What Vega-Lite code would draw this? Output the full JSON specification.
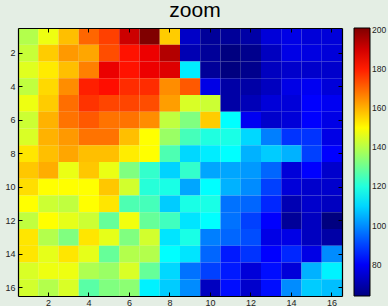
{
  "$schema": "https://vega.github.io/schema/vega-lite/v6.json",
  "autosize": {"type": "none"},
  "padding": {"left": 18, "top": 28, "right": 46, "bottom": 10},
  "width": 324,
  "height": 268,
  "background": "#e4eee4",
  "title": {"text": "zoom", "font": "Liberation Sans", "fontSize": 21, "fontWeight": "normal", "color": "#000000", "anchor": "middle", "dx": 15, "offset": 7},
  "config": {
    "view": {"stroke": null},
    "axis": {"labelFont": "Liberation Sans", "labelFontSize": 9, "labelColor": "#222222", "domainColor": "#000000", "domainWidth": 1.2, "tickColor": "#000000", "tickSize": -4, "grid": false, "title": null, "labelAngle": 0},
    "legend": {"labelFont": "Liberation Sans", "labelFontSize": 9, "labelColor": "#222222"}
  },
  "data": {"name": "grid"},
  "datasets": {
    "grid": [
      {"row":1,"col":1,"v":139.4},{"row":1,"col":2,"v":147.3},{"row":1,"col":3,"v":158.2},{"row":1,"col":4,"v":170.2},{"row":1,"col":5,"v":175.3},{"row":1,"col":6,"v":190.8},{"row":1,"col":7,"v":201},{"row":1,"col":8,"v":156.5},{"row":1,"col":9,"v":73.6},{"row":1,"col":10,"v":67.4},{"row":1,"col":11,"v":67.4},{"row":1,"col":12,"v":69.1},{"row":1,"col":13,"v":76},{"row":1,"col":14,"v":77.7},{"row":1,"col":15,"v":76},{"row":1,"col":16,"v":76},
      {"row":2,"col":1,"v":142.1},{"row":2,"col":2,"v":156.5},{"row":2,"col":3,"v":163.3},{"row":2,"col":4,"v":161.6},{"row":2,"col":5,"v":173.6},{"row":2,"col":6,"v":181.5},{"row":2,"col":7,"v":186.3},{"row":2,"col":8,"v":194.2},{"row":2,"col":9,"v":70.9},{"row":2,"col":10,"v":67.4},{"row":2,"col":11,"v":64},{"row":2,"col":12,"v":65.7},{"row":2,"col":13,"v":72.6},{"row":2,"col":14,"v":77.7},{"row":2,"col":15,"v":77},{"row":2,"col":16,"v":76},
      {"row":3,"col":1,"v":145.5},{"row":3,"col":2,"v":152.3},{"row":3,"col":3,"v":158.2},{"row":3,"col":4,"v":166.7},{"row":3,"col":5,"v":186.6},{"row":3,"col":6,"v":181.5},{"row":3,"col":7,"v":186.3},{"row":3,"col":8,"v":188.4},{"row":3,"col":9,"v":113},{"row":3,"col":10,"v":67.4},{"row":3,"col":11,"v":64},{"row":3,"col":12,"v":65.7},{"row":3,"col":13,"v":72.6},{"row":3,"col":14,"v":74.3},{"row":3,"col":15,"v":74.3},{"row":3,"col":16,"v":74.3},
      {"row":4,"col":1,"v":141.1},{"row":4,"col":2,"v":154.7},{"row":4,"col":3,"v":165},{"row":4,"col":4,"v":179.7},{"row":4,"col":5,"v":182.1},{"row":4,"col":6,"v":178},{"row":4,"col":7,"v":178},{"row":4,"col":8,"v":165},{"row":4,"col":9,"v":171.9},{"row":4,"col":10,"v":77.7},{"row":4,"col":11,"v":69.1},{"row":4,"col":12,"v":69.1},{"row":4,"col":13,"v":72.6},{"row":4,"col":14,"v":77.7},{"row":4,"col":15,"v":79.4},{"row":4,"col":16,"v":76},
      {"row":5,"col":1,"v":147.3},{"row":5,"col":2,"v":156.5},{"row":5,"col":3,"v":169.1},{"row":5,"col":4,"v":177},{"row":5,"col":5,"v":174.6},{"row":5,"col":6,"v":174.6},{"row":5,"col":7,"v":173.6},{"row":5,"col":8,"v":162.6},{"row":5,"col":9,"v":144.5},{"row":5,"col":10,"v":142.8},{"row":5,"col":11,"v":69.1},{"row":5,"col":12,"v":71.5},{"row":5,"col":13,"v":76},{"row":5,"col":14,"v":76},{"row":5,"col":15,"v":81.1},{"row":5,"col":16,"v":79.4},
      {"row":6,"col":1,"v":142.8},{"row":6,"col":2,"v":159.9},{"row":6,"col":3,"v":168.4},{"row":6,"col":4,"v":171.9},{"row":6,"col":5,"v":168.4},{"row":6,"col":6,"v":168.4},{"row":6,"col":7,"v":165},{"row":6,"col":8,"v":141.1},{"row":6,"col":9,"v":132.5},{"row":6,"col":10,"v":156.5},{"row":6,"col":11,"v":115.4},{"row":6,"col":12,"v":79.4},{"row":6,"col":13,"v":74.3},{"row":6,"col":14,"v":76},{"row":6,"col":15,"v":81.1},{"row":6,"col":16,"v":77.7},
      {"row":7,"col":1,"v":144.5},{"row":7,"col":2,"v":159.9},{"row":7,"col":3,"v":163.3},{"row":7,"col":4,"v":168.4},{"row":7,"col":5,"v":168.4},{"row":7,"col":6,"v":158.2},{"row":7,"col":7,"v":149.6},{"row":7,"col":8,"v":136},{"row":7,"col":9,"v":124.6},{"row":7,"col":10,"v":119.5},{"row":7,"col":11,"v":118.8},{"row":7,"col":12,"v":110.2},{"row":7,"col":13,"v":98.2},{"row":7,"col":14,"v":88},{"row":7,"col":15,"v":88},{"row":7,"col":16,"v":77.7},
      {"row":8,"col":1,"v":153},{"row":8,"col":2,"v":158.2},{"row":8,"col":3,"v":161.6},{"row":8,"col":4,"v":158.2},{"row":8,"col":5,"v":158.2},{"row":8,"col":6,"v":152},{"row":8,"col":7,"v":149.6},{"row":8,"col":8,"v":125.7},{"row":8,"col":9,"v":110.2},{"row":8,"col":10,"v":113},{"row":8,"col":11,"v":115.4},{"row":8,"col":12,"v":105.1},{"row":8,"col":13,"v":108.5},{"row":8,"col":14,"v":105.1},{"row":8,"col":15,"v":89.7},{"row":8,"col":16,"v":81.1},
      {"row":9,"col":1,"v":157.1},{"row":9,"col":2,"v":160.6},{"row":9,"col":3,"v":146.9},{"row":9,"col":4,"v":157.1},{"row":9,"col":5,"v":146.9},{"row":9,"col":6,"v":132.5},{"row":9,"col":7,"v":122.2},{"row":9,"col":8,"v":109.5},{"row":9,"col":9,"v":122.2},{"row":9,"col":10,"v":103.4},{"row":9,"col":11,"v":103.4},{"row":9,"col":12,"v":101.7},{"row":9,"col":13,"v":94.8},{"row":9,"col":14,"v":76},{"row":9,"col":15,"v":81.1},{"row":9,"col":16,"v":74.3},
      {"row":10,"col":1,"v":154.1},{"row":10,"col":2,"v":149.6},{"row":10,"col":3,"v":149.6},{"row":10,"col":4,"v":149.6},{"row":10,"col":5,"v":157.1},{"row":10,"col":6,"v":143.5},{"row":10,"col":7,"v":120.5},{"row":10,"col":8,"v":118.8},{"row":10,"col":9,"v":103.4},{"row":10,"col":10,"v":115.4},{"row":10,"col":11,"v":105.1},{"row":10,"col":12,"v":99.9},{"row":10,"col":13,"v":89.7},{"row":10,"col":14,"v":76},{"row":10,"col":15,"v":74.3},{"row":10,"col":16,"v":74.3},
      {"row":11,"col":1,"v":149.6},{"row":11,"col":2,"v":142.8},{"row":11,"col":3,"v":141.1},{"row":11,"col":4,"v":149.6},{"row":11,"col":5,"v":153},{"row":11,"col":6,"v":125.7},{"row":11,"col":7,"v":124.6},{"row":11,"col":8,"v":108.5},{"row":11,"col":9,"v":118.8},{"row":11,"col":10,"v":118.8},{"row":11,"col":11,"v":96.5},{"row":11,"col":12,"v":94.8},{"row":11,"col":13,"v":86.2},{"row":11,"col":14,"v":70.9},{"row":11,"col":15,"v":74.3},{"row":11,"col":16,"v":72.6},
      {"row":12,"col":1,"v":141.1},{"row":12,"col":2,"v":149.6},{"row":12,"col":3,"v":146.2},{"row":12,"col":4,"v":142.8},{"row":12,"col":5,"v":129.1},{"row":12,"col":6,"v":147.9},{"row":12,"col":7,"v":129.1},{"row":12,"col":8,"v":124},{"row":12,"col":9,"v":111.9},{"row":12,"col":10,"v":115.4},{"row":12,"col":11,"v":96.5},{"row":12,"col":12,"v":89.7},{"row":12,"col":13,"v":81},{"row":12,"col":14,"v":67.4},{"row":12,"col":15,"v":72.6},{"row":12,"col":16,"v":64},
      {"row":13,"col":1,"v":153},{"row":13,"col":2,"v":139.4},{"row":13,"col":3,"v":132.5},{"row":13,"col":4,"v":153},{"row":13,"col":5,"v":146.2},{"row":13,"col":6,"v":132.5},{"row":13,"col":7,"v":143.5},{"row":13,"col":8,"v":111.9},{"row":13,"col":9,"v":118.8},{"row":13,"col":10,"v":98.2},{"row":13,"col":11,"v":94.8},{"row":13,"col":12,"v":91.4},{"row":13,"col":13,"v":77.7},{"row":13,"col":14,"v":77.7},{"row":13,"col":15,"v":72.6},{"row":13,"col":16,"v":69.1},
      {"row":14,"col":1,"v":153},{"row":14,"col":2,"v":146.2},{"row":14,"col":3,"v":153},{"row":14,"col":4,"v":146.2},{"row":14,"col":5,"v":129.1},{"row":14,"col":6,"v":139.4},{"row":14,"col":7,"v":139.4},{"row":14,"col":8,"v":115.4},{"row":14,"col":9,"v":111.9},{"row":14,"col":10,"v":94.8},{"row":14,"col":11,"v":84.5},{"row":14,"col":12,"v":88},{"row":14,"col":13,"v":81.1},{"row":14,"col":14,"v":86.2},{"row":14,"col":15,"v":77.7},{"row":14,"col":16,"v":99.9},
      {"row":15,"col":1,"v":144.5},{"row":15,"col":2,"v":147.3},{"row":15,"col":3,"v":147.3},{"row":15,"col":4,"v":138.7},{"row":15,"col":5,"v":136},{"row":15,"col":6,"v":144.5},{"row":15,"col":7,"v":129.1},{"row":15,"col":8,"v":110.2},{"row":15,"col":9,"v":96.5},{"row":15,"col":10,"v":89.7},{"row":15,"col":11,"v":84.5},{"row":15,"col":12,"v":76},{"row":15,"col":13,"v":82.8},{"row":15,"col":14,"v":76},{"row":15,"col":15,"v":105.1},{"row":15,"col":16,"v":113.6},
      {"row":16,"col":1,"v":143.5},{"row":16,"col":2,"v":139.4},{"row":16,"col":3,"v":144.5},{"row":16,"col":4,"v":127.4},{"row":16,"col":5,"v":132.5},{"row":16,"col":6,"v":134.2},{"row":16,"col":7,"v":113.6},{"row":16,"col":8,"v":108.5},{"row":16,"col":9,"v":99.9},{"row":16,"col":10,"v":72.6},{"row":16,"col":11,"v":82.8},{"row":16,"col":12,"v":74.3},{"row":16,"col":13,"v":82.8},{"row":16,"col":14,"v":99.9},{"row":16,"col":15,"v":108.5},{"row":16,"col":16,"v":106.8}
    ]
  },
  "layer": [
    {
      "mark": {"type": "rect"},
      "encoding": {
        "x": {"field": "col", "type": "ordinal", "scale": {"paddingInner": 0, "paddingOuter": 0}, "axis": {"orient": "bottom", "values": [2,4,6,8,10,12,14,16], "labelPadding": 6}},
        "y": {"field": "row", "type": "ordinal", "scale": {"paddingInner": 0, "paddingOuter": 0}, "axis": {"orient": "left", "values": [2,4,6,8,10,12,14,16], "labelPadding": 7}},
        "color": {
          "field": "v", "type": "quantitative",
          "scale": {"domain": [64, 81.1, 115.4, 149.6, 183.9, 201], "range": ["#000080", "#0000ff", "#00ffff", "#ffff00", "#ff0000", "#800000"], "interpolate": "rgb", "clamp": true},
          "legend": {"type": "gradient", "title": null, "orient": "right", "offset": 11, "direction": "vertical", "gradientLength": 268, "gradientThickness": 16, "gradientStrokeColor": "#000000", "gradientStrokeWidth": 1, "values": [80, 100, 120, 140, 160, 180, 200], "labelOffset": 2, "labelFontSize": 8.5, "padding": 0}
        }
      }
    },
    {
      "mark": {"type": "rect", "opacity": 0},
      "encoding": {
        "x": {"field": "col", "type": "ordinal", "axis": {"orient": "top", "values": [2,4,6,8,10,12,14,16], "labels": false}},
        "y": {"field": "row", "type": "ordinal", "axis": {"orient": "right", "values": [2,4,6,8,10,12,14,16], "labels": false}}
      }
    }
  ],
  "resolve": {"axis": {"x": "independent", "y": "independent"}}
}
